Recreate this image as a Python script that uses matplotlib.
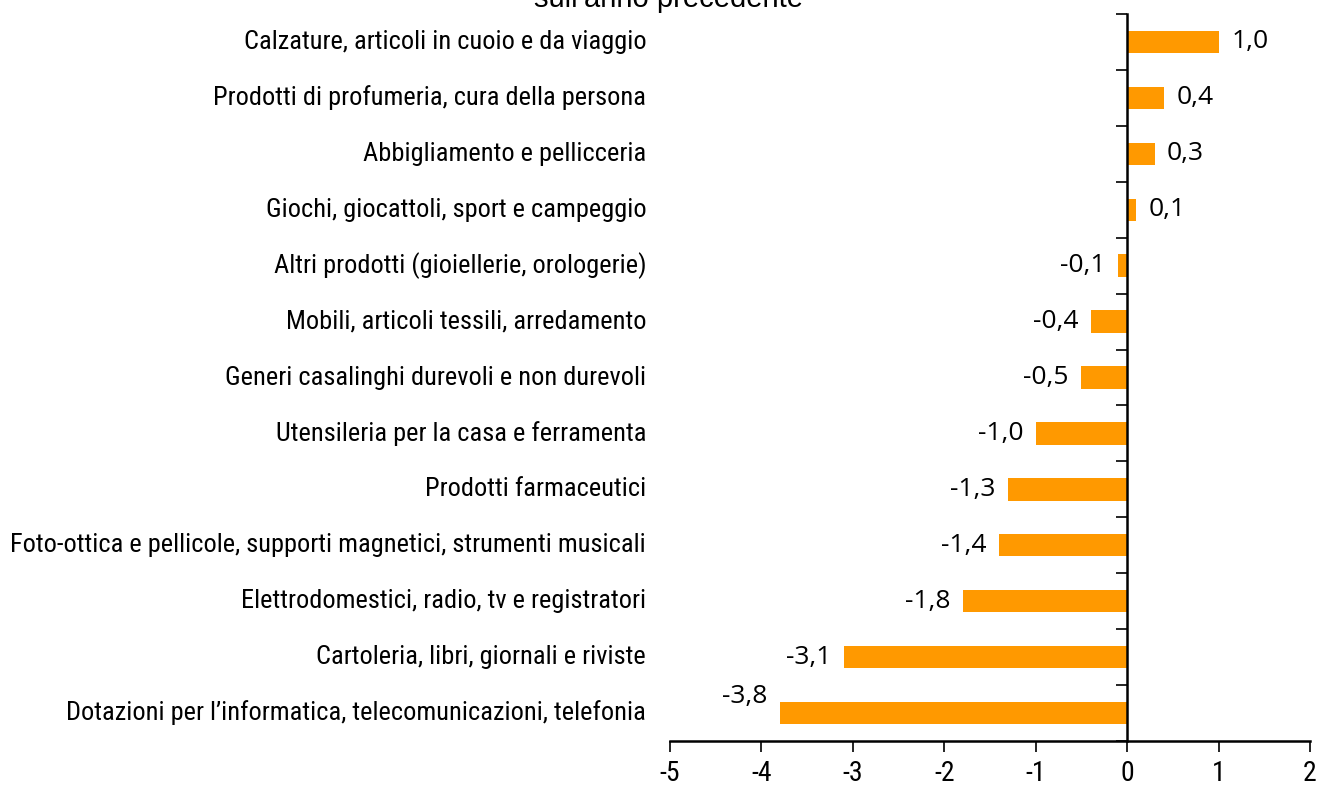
#!/usr/bin/env python

import numpy as np
import matplotlib
matplotlib.use('Agg')
import matplotlib.pyplot as plt
from matplotlib import font_manager as fm

categorie = [
  'Calzature, articoli in cuoio e da viaggio',
  'Prodotti di profumeria, cura della persona',
  'Abbigliamento e pellicceria',
  'Giochi, giocattoli, sport e campeggio',
  'Altri prodotti (gioiellerie, orologerie)',
  'Mobili, articoli tessili, arredamento',
  'Generi casalinghi durevoli e non durevoli',
  'Utensileria per la casa e ferramenta',
  'Prodotti farmaceutici',
  'Foto-ottica e pellicole, supporti magnetici, strumenti musicali',
  'Elettrodomestici, radio, tv e registratori',
  'Cartoleria, libri, giornali e riviste',
  'Dotazioni per l\u2019informatica, telecomunicazioni, telefonia',
]
variazioni = [1.0, 0.4, 0.3, 0.1, -0.1, -0.4, -0.5, -1.0, -1.3, -1.4, -1.8, -3.1, -3.8]
xticks = [-5, -4, -3, -2, -1, 0, 1, 2]
titolo = 'sull\u2019anno precedente'


def narrow_font():
  # pick the narrowest sans available
  fonts = fm.fontManager.ttflist
  names = set(f.name for f in fonts)
  for n in ['Liberation Sans Narrow', 'Roboto Condensed', 'Open Sans Condensed']:
    if n in names:
      return dict(family=n)
  for f in fonts:
    if f.name == 'DejaVu Sans' and str(f.stretch) in ('condensed', 'semi-condensed'):
      return dict(family='DejaVu Sans', stretch='condensed')
  return dict(family='Liberation Sans')


nf = narrow_font()

fig = plt.figure(figsize=(13.2, 7.89), dpi=100)
ax = fig.add_axes([670/1320, 48/789, 640/1320, 727/789])

n = len(categorie)
y = np.arange(n)[::-1]
ax.barh(y, variazioni, height=0.4, color='#FF9900', zorder=2)

ax.set_xlim(-5, 2)
ax.set_ylim(-0.5, n - 0.5)
ax.set_xticks(xticks)
ax.set_xticklabels(['%d' % t for t in xticks])
ax.tick_params(axis='x', direction='out', length=8, width=1.2, pad=6)

for s in ['top', 'right']:
  ax.spines[s].set_visible(False)
ax.spines['left'].set_position(('data', 0))
ax.spines['left'].set_linewidth(1.8)
ax.spines['bottom'].set_linewidth(1.8)
ax.set_yticks(np.arange(n + 1) - 0.5)
ax.set_yticklabels([])
ax.tick_params(axis='y', direction='out', length=8, width=1.2)

# category labels on the far left
labels = []
for yi, c in zip(y, categorie):
  t = ax.text(-5.26, yi, c, ha='right', va='center', fontsize=15, clip_on=False, **nf)
  labels.append(t)

# fit the longest label to the reference width
r = fig.canvas.get_renderer()
w = max(t.get_window_extent(r).width for t in labels)
fs = 15 * 635.0 / w
for t in labels:
  t.set_fontsize(fs)

for t in ax.get_xticklabels():
  t.set_fontsize(20)
  t.set_family(nf['family'])
  if 'stretch' in nf:
    t.set_stretch(nf['stretch'])

# value labels
for yi, v in zip(y, variazioni):
  lab = ('%.1f' % v).replace('.', ',')
  if v >= 0:
    ax.annotate(lab, (v, yi), xytext=(9, 0), textcoords='offset points',
                ha='left', va='center', fontsize=19, family='Open Sans')
  else:
    dy = 12 if v <= -3.5 else 0
    ax.annotate(lab, (v, yi), xytext=(-9, dy), textcoords='offset points',
                ha='right', va='center', fontsize=19, family='Open Sans')

fig.text(668/1320, 1 - 7/789, titolo, ha='center', va='baseline', fontsize=21,
         family='Liberation Sans')

fig.savefig('out.png', dpi=100)
